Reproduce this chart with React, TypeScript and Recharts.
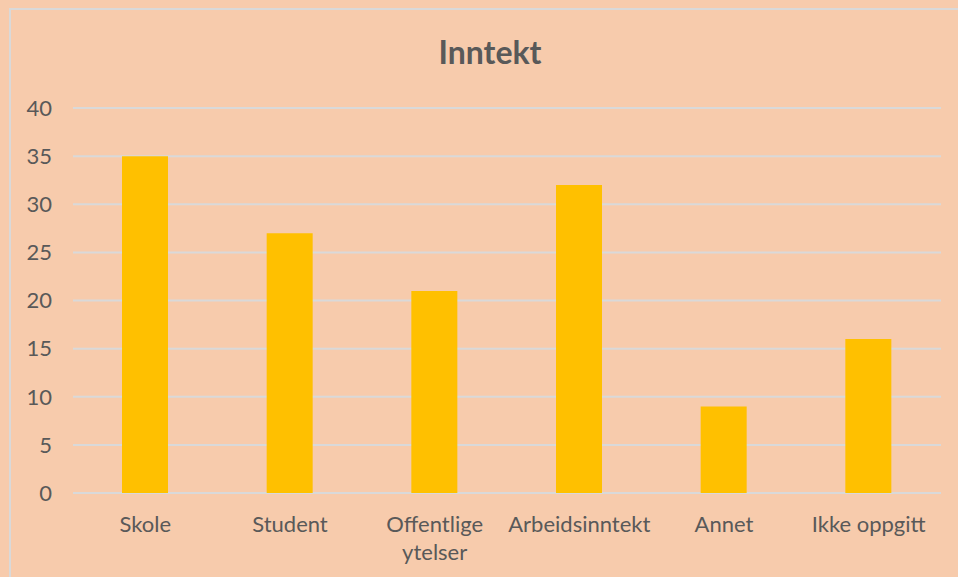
import React from "react";
import { Bar, BarChart, CartesianGrid, XAxis, YAxis } from "recharts";

const categories = ["Skole", "Student", "Offentlige ytelser", "Arbeidsinntekt", "Annet", "Ikke oppgitt"];
const counts = [35, 27, 21, 32, 9, 16];
const yTicks = [0, 5, 10, 15, 20, 25, 30, 35, 40];

const data = categories.map((name, i) => ({ name, value: counts[i] }));

const FONT = "Lato, 'Liberation Sans', sans-serif";
const TEXT_COLOR = "#595959";

// long labels break at the last space, like Excel does in a narrow slot
function splitLabel(label: string): string[] {
  if (label.length <= 14 || label.indexOf(" ") < 0) return [label];
  const cut = label.lastIndexOf(" ");
  return [label.slice(0, cut), label.slice(cut + 1)];
}

function CategoryTick(props: any) {
  const { x, y, payload } = props;
  const lines = splitLabel(String(payload.value));
  return (
    <text
      x={x}
      y={y}
      textAnchor="middle"
      fill={TEXT_COLOR}
      fontSize={22}
      fontFamily={FONT}
    >
      {lines.map((line, i) => (
        <tspan key={i} x={x} dy={i === 0 ? 31 : 28}>
          {line}
        </tspan>
      ))}
    </text>
  );
}

export default function App() {
  return (
    <div
      style={{
        position: "absolute",
        left: 0,
        top: 0,
        width: 958,
        height: 577,
        background: "#F7CBAC",
        overflow: "hidden",
      }}
    >
      <div
        style={{
          position: "absolute",
          left: 9,
          top: 8,
          width: 980,
          height: 600,
          border: "2px solid #D9D9D9",
        }}
      />
      <div
        style={{
          position: "absolute",
          left: 0,
          width: 980,
          top: 32,
          textAlign: "center",
          fontFamily: FONT,
          fontWeight: 700,
          fontSize: 32,
          color: TEXT_COLOR,
        }}
      >
        Inntekt
      </div>
      <div style={{ position: "absolute", left: 0, top: 0 }}>
        <BarChart
          width={958}
          height={577}
          data={data}
          margin={{ top: 108, right: 17, bottom: 14, left: 13 }}
        >
          <CartesianGrid vertical={false} stroke="#D9D9D9" strokeWidth={2} />
          <XAxis
            dataKey="name"
            axisLine={false}
            tickLine={false}
            height={70}
            interval={0}
            tick={<CategoryTick />}
          />
          <YAxis
            domain={[0, 40]}
            ticks={yTicks}
            axisLine={false}
            tickLine={false}
            width={60}
            tickMargin={15}
            tick={{ fill: TEXT_COLOR, fontSize: 22, fontFamily: FONT }}
          />
          <Bar dataKey="value" fill="#FFC000" barSize={46} isAnimationActive={false} />
        </BarChart>
      </div>
    </div>
  );
}
